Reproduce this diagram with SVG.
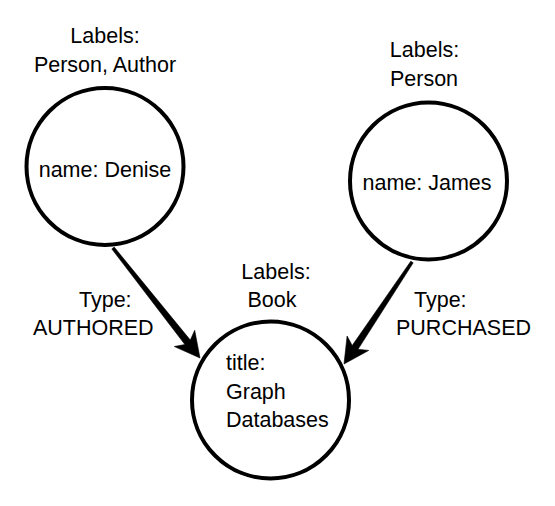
<svg xmlns="http://www.w3.org/2000/svg" width="555" height="506" viewBox="0 0 555 506">
  <style>
    .node { fill: #ffffff; stroke: #000000; stroke-width: 4; }
    text { font-family: "Liberation Sans", Arial, Helvetica, sans-serif; font-size: 21.5px; fill: #000000; }
    .mid { text-anchor: middle; }
    .arrow { fill: #000000; stroke: #000000; stroke-width: 0.6; stroke-linejoin: miter; }
  </style>
  <rect width="555" height="506" fill="#ffffff"/>
  <g id="connectors">
    <g id="edge-authored">
      <polygon class="arrow" points="111.8,248.9 184.9,344.5 174.3,346.5 200,358 194.7,330.3 190.3,340.1 114.2,247.1"/>
      <text x="79" y="307">Type:</text>
      <text x="33" y="335">AUTHORED</text>
    </g>
    <g id="edge-purchased">
      <polygon class="arrow" points="413.2,262.8 358.0,349.3 368.7,350.4 344,364 347.1,336.0 352.2,345.5 410.8,261.2"/>
      <text x="414" y="307">Type:</text>
      <text x="396" y="335">PURCHASED</text>
    </g>
  </g>
  <g id="node-denise">
    <text class="mid" x="105" y="43">Labels:</text>
    <text class="mid" x="105" y="72">Person, Author</text>
    <circle class="node" cx="105" cy="166.5" r="78.5"/>
    <text class="mid" x="105" y="177">name: Denise</text>
  </g>
  <g id="node-james">
    <text class="mid" x="424.5" y="57">Labels:</text>
    <text class="mid" x="424" y="86">Person</text>
    <circle class="node" cx="428.5" cy="181" r="78.5"/>
    <text class="mid" x="427" y="190">name: James</text>
  </g>
  <g id="node-book">
    <text class="mid" x="276" y="279">Labels:</text>
    <text class="mid" x="272" y="307">Book</text>
    <circle class="node" cx="270.5" cy="400" r="78.5"/>
    <text x="226" y="370">title:</text>
    <text x="226" y="399">Graph</text>
    <text x="226" y="427">Databases</text>
  </g>
</svg>
